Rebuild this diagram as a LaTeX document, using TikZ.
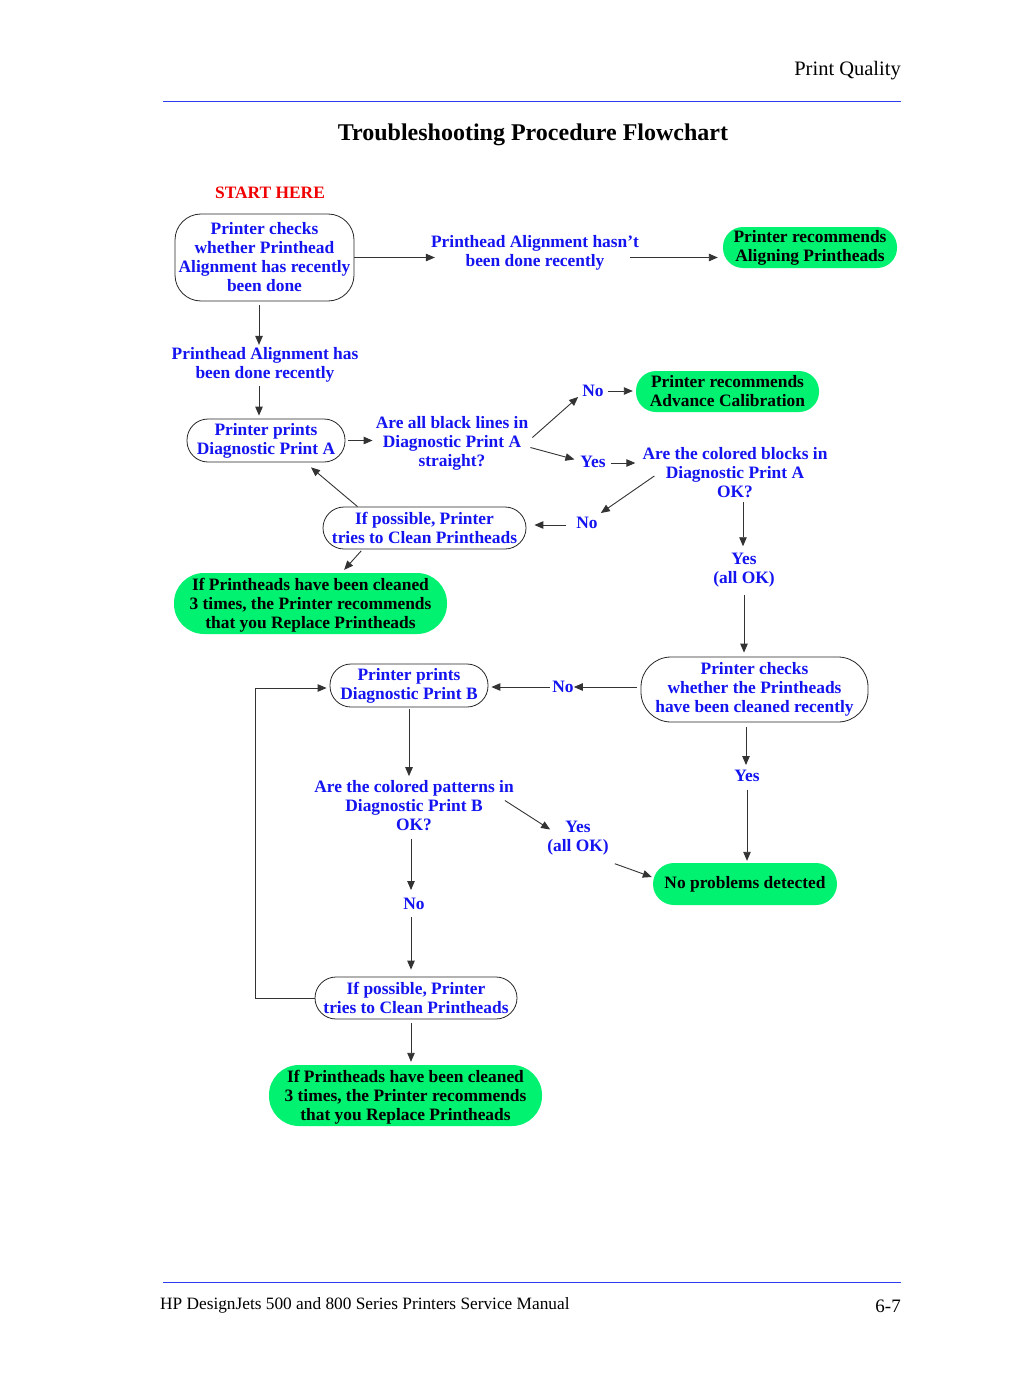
\documentclass[tikz,border=0pt]{standalone}
\usepackage{fontspec}
\setmainfont{Liberation Serif}
\usetikzlibrary{arrows.meta}
\definecolor{txtblue}{RGB}{20,20,240}
\definecolor{rulblue}{RGB}{45,60,240}
\definecolor{okgreen}{RGB}{0,242,112}
\definecolor{startred}{RGB}{240,0,0}

\begin{document}
\begin{tikzpicture}[x=1pt,y=-1pt,
  every node/.style={font=\fontsize{17.4}{19}\selectfont\bfseries, align=center, inner sep=0pt},
  lbl/.style={text=txtblue},
  stepbox/.style={draw=black!85, line width=0.8pt, fill=white, text=txtblue},
  okbox/.style={fill=okgreen, text=black},
  arr/.style={draw=black!80, line width=0.9pt, -{Triangle[length=9pt,width=7.5pt]}},
  plain/.style={font=\fontsize{#1}{#1}\selectfont}
]
\useasboundingbox (0,0) rectangle (1033,1375);
\fill[white] (0,0) rectangle (1033,1375);

% page header and footer
\node[plain=20.5, anchor=east] (hdr) at (901,70.5) {Print Quality};
\coordinate (hl) at (163,102);
\coordinate (hr) at (901,102);
\draw[rulblue, line width=1pt] (hl) -- (hr);
\node[font=\fontsize{24}{24}\selectfont\bfseries] (title) at (533,134.5) {Troubleshooting Procedure Flowchart};
\coordinate (fl) at (163,1282);
\coordinate (fr) at (901,1282);
\draw[rulblue, line width=1pt] (fl) -- (fr);
\node[plain=17.3, anchor=west] (foot) at (160,1305) {HP DesignJets 500 and 800 Series Printers Service Manual};
\node[plain=19, anchor=east] (page) at (901,1306) {6-7};

% flowchart nodes
\node[text=startred] (start) at (270,193) {START HERE};
\node[stepbox, minimum width=179, minimum height=87, rounded corners=26] (A1) at (264.5,257.5)
  {Printer checks\\whether Printhead\\Alignment has recently\\been done};
\node[lbl] (L1) at (535,252.5) {Printhead Alignment hasn’t\\been done recently};
\node[okbox, minimum width=174, minimum height=41, rounded corners=20] (G1) at (810,247.5)
  {Printer recommends\\Aligning Printheads};
\node[lbl] (L2) at (265,364.5) {Printhead Alignment has\\been done recently};
\node[stepbox, minimum width=158, minimum height=43, rounded corners=21] (B1) at (266,440.5)
  {Printer prints\\Diagnostic Print A};
\node[lbl] (Q1) at (452,443.5) {Are all black lines in\\Diagnostic Print A\\straight?};
\node[lbl] (No1) at (593,391) {No};
\node[okbox, minimum width=183, minimum height=41, rounded corners=20] (G2) at (727.5,391.5)
  {Printer recommends\\Advance Calibration};
\node[lbl] (Yes1) at (593,462) {Yes};
\node[lbl] (Q2) at (735,473) {Are the colored blocks in\\Diagnostic Print A\\OK?};
\node[lbl] (No2) at (587,523) {No};
\node[stepbox, minimum width=203, minimum height=42, rounded corners=21] (C1) at (424.5,528)
  {If possible, Printer\\tries to Clean Printheads};
\node[okbox, minimum width=273, minimum height=61, rounded corners=30] (R1) at (310.5,603.5)
  {\rule{0pt}{16pt}If Printheads have been cleaned\\3 times, the Printer recommends\\that you Replace Printheads};
\node[lbl] (YesA) at (744,570.5) {Yes\\(all OK)};
\node[stepbox, minimum width=227, minimum height=65, rounded corners=30] (D1) at (754.5,689.5)
  {Printer checks\\whether the Printheads\\have been cleaned recently};
\node[lbl] (NoB) at (563,687) {No};
\node[stepbox, minimum width=158, minimum height=43, rounded corners=21] (B2) at (409,685.5)
  {Printer prints\\Diagnostic Print B};
\node[lbl] (Q3) at (414,805.5) {Are the colored patterns in\\Diagnostic Print B\\OK?};
\node[lbl] (YesB) at (578,838.5) {Yes\\(all OK)};
\node[lbl] (YesC) at (747,776) {Yes};
\node[okbox, minimum width=184, minimum height=42, rounded corners=21] (G3) at (745,884)
  {No problems detected};
\node[lbl] (NoC) at (414,904) {No};
\node[stepbox, minimum width=202, minimum height=42, rounded corners=21] (C2) at (416,998)
  {If possible, Printer\\tries to Clean Printheads};
\node[okbox, minimum width=273, minimum height=61, rounded corners=30] (R2) at (405.5,1095.5)
  {\rule{0pt}{16pt}If Printheads have been cleaned\\3 times, the Printer recommends\\that you Replace Printheads};

% connectors
\draw[arr, shorten >=-4pt] (A1.east) -- (A1.east -| L1.west);
\draw[arr, shorten <=-9pt, shorten >=5pt] ([shift={(0,5)}]L1.east) -- ([shift={(0,5)}]L1.east -| G1.west);
\draw[arr, shorten <=4pt, shorten >=2pt] ([xshift=-5.5]A1.south) -- ([xshift=-5.5]A1.south |- L2.north);
\draw[arr, shorten <=4pt, shorten >=3pt] ([xshift=-6]L2.south) -- ([xshift=-6]L2.south |- B1.north);
\draw[arr, shorten <=3pt, shorten >=3pt] (B1.east) -- (B1.east -| Q1.west);
\draw[arr] ([shift={(4,-6)}]Q1.east) -- ([shift={(-4,0)}]No1.south west);
\draw[arr, shorten <=4pt, shorten >=3pt] (No1.east) -- (No1.east -| G2.west);
\draw[arr, shorten >=6pt] ([shift={(2,4)}]Q1.east) -- ([shift={(0,-1)}]Yes1.west);
\draw[arr, shorten <=5pt, shorten >=7pt] ([shift={(0,1)}]Yes1.east) -- ([shift={(0,1)}]Yes1.east -| Q2.west);
\draw[arr] ([shift={(12,3)}]Q2.west) -- ([shift={(3,-4)}]No2.north east);
\draw[arr, shorten <=10pt, shorten >=8pt] ([shift={(0,2)}]No2.west) -- ([shift={(0,2)}]No2.west -| C1.east);
\draw[arr] ([xshift=-67]C1.north) -- ([shift={(45,5)}]B1.south);
\draw[arr, shorten <=2pt, shorten >=4pt] ([xshift=-62]C1.south) -- ([xshift=31]R1.north);
\draw[arr, shorten <=4pt, shorten >=7pt] ([xshift=8]Q2.south) -- ([xshift=8]Q2.south |- YesA.north);
\draw[arr, shorten <=7pt, shorten >=4pt] (YesA.south) -- (YesA.south |- D1.north);
\draw[arr, shorten <=4pt] ([shift={(0,-2.5)}]D1.west) -- ([shift={(0,-2.5)}]D1.west -| NoB.east);
\draw[arr, shorten <=2pt, shorten >=3pt] (NoB.west) -- (NoB.west -| B2.east);
\draw[arr, shorten <=2pt, shorten >=4pt] (B2.south) -- (B2.south |- Q3.north);
\draw[arr] ([shift={(-9,-5)}]Q3.east) -- ([shift={(3,-9)}]YesB.west);
\draw[arr] ([shift={(6,8)}]YesB.south east) -- ([shift={(-1,-7)}]G3.west);
\draw[arr, shorten <=5pt, shorten >=5pt] ([xshift=-8.5]D1.south) -- ([xshift=-8.5]D1.south |- YesC.north);
\draw[arr, shorten <=8pt, shorten >=2pt] (YesC.south) -- (YesC.south |- G3.north);
\draw[arr, shorten <=8pt, shorten >=8pt] ([xshift=-3]Q3.south) -- ([xshift=-3]Q3.south |- NoC.north);
\draw[arr, shorten <=7pt, shorten >=7pt] ([xshift=-3]NoC.south) -- ([xshift=-3]NoC.south |- C2.north);
\draw[arr, shorten >=3pt] (C2.west) -| ([shift={(-74,2.5)}]B2.west) -- ([shift={(0,2.5)}]B2.west);
\draw[arr, shorten <=4pt, shorten >=3pt] ([xshift=-5]C2.south) -- ([xshift=-5]C2.south |- R2.north);
\end{tikzpicture}
\end{document}
